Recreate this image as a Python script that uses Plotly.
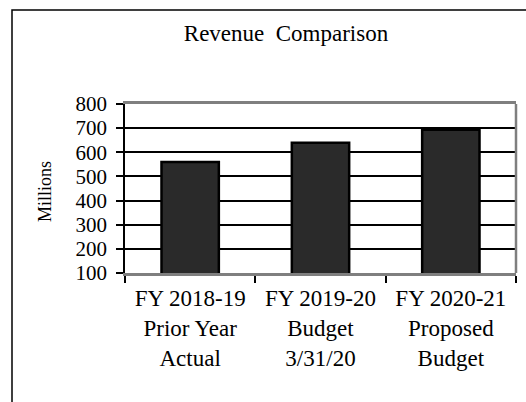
import plotly.graph_objects as go

# Revenue by fiscal year, in millions
categories = [
    "FY 2018-19<br>Prior Year<br>Actual",
    "FY 2019-20<br>Budget<br>3/31/20",
    "FY 2020-21<br>Proposed<br>Budget",
]
revenue = [560, 640, 693]
y_ticks = [100, 200, 300, 400, 500, 600, 700, 800]

W, H = 526, 402
L, R, T, B = 125, 10, 104, 129
plot_w = W - L - R
plot_h = H - T - B

FONT = "Liberation Serif"


def px_x(p):
    return (p - L) / plot_w


def px_y(p):
    return (H - B - p) / plot_h


fig = go.Figure(
    go.Bar(
        x=categories,
        y=revenue,
        base=0,
        marker=dict(color="#2a2a2a", line=dict(color="#000000", width=2.5)),
        width=0.44,
    )
)

fig.update_layout(
    width=W,
    height=H,
    margin=dict(l=L, r=R, t=T, b=B),
    paper_bgcolor="white",
    plot_bgcolor="white",
    showlegend=False,
    font=dict(family=FONT, color="black"),
    title=dict(
        text="Revenue  Comparison",
        font=dict(family=FONT, size=23, color="black"),
        x=286 / W,
        xanchor="center",
        xref="container",
        y=1 - 33 / H,
        yref="container",
        yanchor="middle",
    ),
    xaxis=dict(
        type="category",
        showline=True,
        linecolor="#7f7f7f",
        linewidth=2.5,
        mirror=True,
        ticks="outside",
        tickson="boundaries",
        ticklen=7,
        tickwidth=1.5,
        tickcolor="black",
        ticklabelstandoff=3,
        tickfont=dict(family=FONT, size=23, color="black"),
        showgrid=False,
    ),
    yaxis=dict(
        range=[100, 800],
        tickvals=y_ticks,
        showline=True,
        linecolor="black",
        linewidth=1.5,
        ticks="outside",
        ticklen=7,
        tickwidth=1.5,
        tickcolor="black",
        ticklabelstandoff=5,
        tickfont=dict(family=FONT, size=21, color="black"),
        showgrid=True,
        gridcolor="black",
        gridwidth=1.5,
        zeroline=False,
        fixedrange=True,
    ),
    shapes=[
        # right edge of the plot frame
        dict(type="line", xref="paper", yref="paper", x0=1, x1=1, y0=0, y1=1,
             line=dict(color="#7f7f7f", width=2.5)),
        # outer chart border
        dict(type="rect", xref="paper", yref="paper",
             x0=px_x(12), x1=px_x(560), y0=px_y(440), y1=px_y(10),
             line=dict(color="black", width=1.5), fillcolor="rgba(0,0,0,0)",
             layer="above"),
    ],
    annotations=[
        dict(text="Millions", textangle=-90, xref="paper", yref="paper",
             x=px_x(45), y=px_y(192), xanchor="center", yanchor="middle",
             showarrow=False, font=dict(family=FONT, size=18, color="black")),
    ],
)

fig.write_html("out.html")
